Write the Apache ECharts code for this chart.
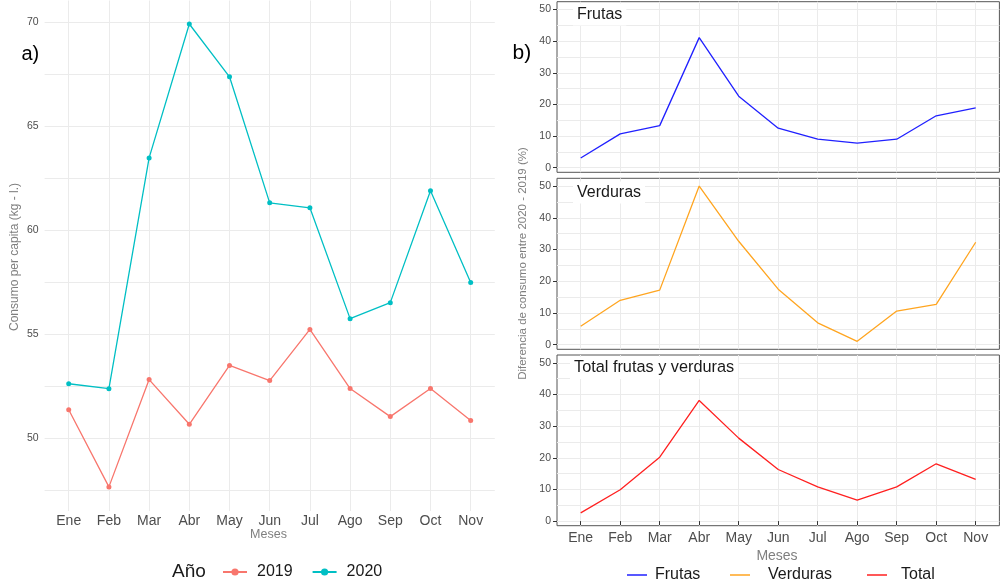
<!DOCTYPE html>
<html>
<head>
<meta charset="utf-8">
<script src="https://cdn.jsdelivr.net/npm/echarts@6/dist/echarts.min.js"></script>
<style>html,body{margin:0;padding:0;background:#fff;}#c{width:1001px;height:585px;}</style>
</head>
<body>
<div id="c"></div>
<script>
const months = ['Ene','Feb','Mar','Abr','May','Jun','Jul','Ago','Sep','Oct','Nov'];
const consumo2019 = [51.37, 47.66, 52.82, 50.67, 53.5, 52.77, 55.23, 52.39, 51.04, 52.39, 50.85];
const consumo2020 = [52.62, 52.38, 63.48, 69.92, 67.38, 61.32, 61.08, 55.75, 56.52, 61.9, 57.49];
const frutas = [3.05, 10.7, 13.3, 41.1, 22.6, 12.5, 9.0, 7.8, 9.0, 16.4, 18.9];
const verduras = [5.8, 14.0, 17.2, 50.0, 32.6, 17.5, 6.9, 1.07, 10.6, 12.7, 32.3];
const total = [2.6, 9.9, 20.2, 38.1, 26.2, 16.3, 10.8, 6.6, 10.8, 18.1, 13.2];
const leftMajorTicks = [50, 55, 60, 65, 70];
const leftGridTicks = [47.5, 50, 52.5, 55, 57.5, 60, 62.5, 65, 67.5, 70];
const rightMajorTicks = [0, 10, 20, 30, 40, 50];
const rightGridTicks = [0, 5, 10, 15, 20, 25, 30, 35, 40, 45, 50];
const monthPos = months.map((m, i) => i + 1);

const pts = arr => arr.map((v, i) => [i + 1, v]);
const FONT = "'Liberation Sans', Arial, sans-serif";
const gridLine = { show: true, lineStyle: { color: '#EBEBEB', width: 1 } };

const grids = [
  { left: 44.6, top: 0.5, width: 450.2, height: 510.5 },
  { left: 557, top: 1.7, width: 442.4, height: 170.6, show: true, borderColor: '#555', borderWidth: 1, backgroundColor: '#fff' },
  { left: 557, top: 178.3, width: 442.4, height: 171, show: true, borderColor: '#555', borderWidth: 1, backgroundColor: '#fff' },
  { left: 557, top: 355, width: 442.4, height: 170.7, show: true, borderColor: '#555', borderWidth: 1, backgroundColor: '#fff' }
];

const xAxes = [];
const yAxes = [];
xAxes.push({
  type: 'value', gridIndex: 0, min: 0.4, max: 11.6,
  axisLine: { show: false },
  axisTick: { show: false, customValues: monthPos },
  axisLabel: { customValues: monthPos, formatter: v => months[Math.round(v) - 1], color: '#4d4d4d', fontSize: 14, margin: 3, fontFamily: FONT },
  splitLine: gridLine
});
yAxes.push({
  type: 'value', gridIndex: 0, min: 46.5, max: 71.05,
  axisLine: { show: false },
  axisTick: { show: false, customValues: leftGridTicks },
  axisLabel: { customValues: leftMajorTicks, color: '#4d4d4d', fontSize: 10.5, margin: 6, fontFamily: FONT },
  splitLine: gridLine
});
for (let g = 1; g <= 3; g++) {
  const bottom = g === 3;
  xAxes.push({
    type: 'value', gridIndex: g, min: 0.4, max: 11.6,
    axisLine: { show: false },
    axisTick: { show: bottom, customValues: monthPos, length: 4, lineStyle: { color: '#333' } },
    axisLabel: { show: bottom, customValues: monthPos, formatter: v => months[Math.round(v) - 1], color: '#4d4d4d', fontSize: 14, margin: 5, fontFamily: FONT },
    splitLine: gridLine
  });
  yAxes.push({
    type: 'value', gridIndex: g, min: -1.45, max: 52.45,
    axisLine: { show: false },
    axisTick: { show: false, customValues: rightGridTicks },
    axisLabel: { show: false },
    splitLine: gridLine
  });
  yAxes.push({
    type: 'value', gridIndex: g, min: -1.45, max: 52.45, position: 'left',
    axisLine: { show: false },
    axisTick: { show: true, customValues: rightMajorTicks, length: 4, lineStyle: { color: '#333' } },
    axisLabel: { customValues: rightMajorTicks, color: '#4d4d4d', fontSize: 10.5, margin: 6, fontFamily: FONT },
    splitLine: { show: false }
  });
}

const series = [
  { name: '2019', type: 'line', xAxisIndex: 0, yAxisIndex: 0, data: pts(consumo2019),
    color: '#F8766D', symbol: 'circle', symbolSize: 5, lineStyle: { width: 1.3 }, z: 3 },
  { name: '2020', type: 'line', xAxisIndex: 0, yAxisIndex: 0, data: pts(consumo2020),
    color: '#00BFC4', symbol: 'circle', symbolSize: 5, lineStyle: { width: 1.3 }, z: 3 },
  { name: 'Frutas', type: 'line', xAxisIndex: 1, yAxisIndex: 1, data: pts(frutas),
    color: '#2020ff', symbol: 'none', lineStyle: { width: 1.3 } },
  { name: 'Verduras', type: 'line', xAxisIndex: 2, yAxisIndex: 3, data: pts(verduras),
    color: '#FFA520', symbol: 'none', lineStyle: { width: 1.3 } },
  { name: 'Total', type: 'line', xAxisIndex: 3, yAxisIndex: 5, data: pts(total),
    color: '#ff2020', symbol: 'none', lineStyle: { width: 1.3 } }
];

const legText = { color: '#1a1a1a', fontSize: 16, fontFamily: FONT };
const rightLeg = (name, left, pad) => ({
  data: [name], left: left, top: 567, padding: 0, icon: 'rect', itemWidth: 20, itemHeight: 1.5,
  textStyle: Object.assign({}, legText, { padding: [0, 0, 0, pad] }), selectedMode: false
});
const legends = [
  { data: ['2019', '2020'], left: 222, top: 564, padding: 0, itemWidth: 24, itemHeight: 9, itemGap: 19,
    textStyle: Object.assign({}, legText, { padding: [0, 0, 0, 5] }), selectedMode: false },
  rightLeg('Frutas', 627, 3),
  rightLeg('Verduras', 730, 13),
  rightLeg('Total', 867, 9)
];

const txt = (x, y, text, style, extra) => Object.assign({
  type: 'text', x: x, y: y, z: 100,
  style: Object.assign({ text: text, fontFamily: FONT }, style)
}, extra || {});

const graphic = [
  txt(21.5, 54.5, 'a)', { fontSize: 20, fill: '#000', textVerticalAlign: 'middle' }),
  txt(512.5, 53.5, 'b)', { fontSize: 21, fill: '#000', textVerticalAlign: 'middle' }),
  txt(15, 257, 'Consumo per capita (kg - l.)', { fontSize: 12, fill: '#7f7f7f', textAlign: 'center', textVerticalAlign: 'middle' }, { rotation: Math.PI / 2 }),
  txt(523, 263.5, 'Diferencia de consumo entre 2020 - 2019 (%)', { fontSize: 11.5, fill: '#7f7f7f', textAlign: 'center', textVerticalAlign: 'middle' }, { rotation: Math.PI / 2 }),
  txt(268.5, 534.5, 'Meses', { fontSize: 12.5, fill: '#7f7f7f', textAlign: 'center', textVerticalAlign: 'middle' }),
  txt(777, 556, 'Meses', { fontSize: 14, fill: '#7f7f7f', textAlign: 'center', textVerticalAlign: 'middle' }),
  txt(172, 572, 'Año', { fontSize: 19, fill: '#1a1a1a', textVerticalAlign: 'middle' }),
  txt(573, 14.5, 'Frutas', { fontSize: 16, fill: '#1a1a1a', textVerticalAlign: 'middle', backgroundColor: '#fff', padding: [3, 4, 3, 4] }),
  txt(573, 192.5, 'Verduras', { fontSize: 16, fill: '#1a1a1a', textVerticalAlign: 'middle', backgroundColor: '#fff', padding: [3, 4, 3, 4] }),
  txt(570, 368, 'Total frutas y verduras', { fontSize: 16.3, fill: '#1a1a1a', textVerticalAlign: 'middle', backgroundColor: '#fff', padding: [3, 4, 3, 4] })
];

const chart = echarts.init(document.getElementById('c'), null, { renderer: 'canvas' });
chart.setOption({
  animation: false,
  backgroundColor: '#fff',
  textStyle: { fontFamily: FONT },
  grid: grids,
  xAxis: xAxes,
  yAxis: yAxes,
  legend: legends,
  series: series,
  graphic: graphic
});
</script>
</body>
</html>
